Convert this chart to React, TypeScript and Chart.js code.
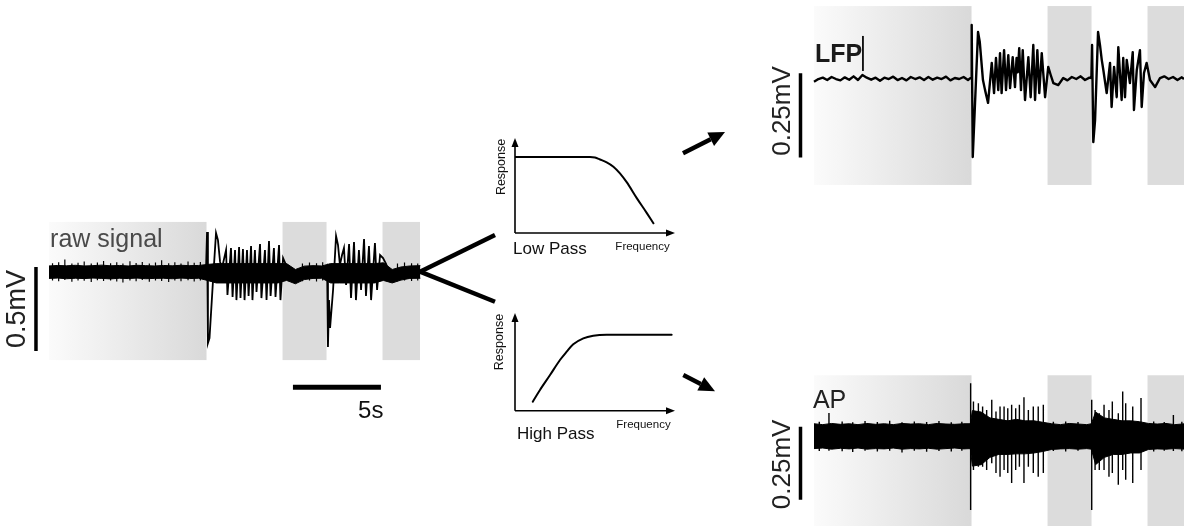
import React, { useEffect, useRef } from 'react';
import Chart from 'chart.js/auto';

const FONT = '"Liberation Sans", Arial, Helvetica, sans-serif';

// ---------- shared time layout (seconds) ----------
const epochStart = [0, 13.27, 18.95];
const epochEnd = [8.95, 15.77, 21.08];
const timeBarStartS = 13.86;
const timeBarLenS = 5;

// ---------- raw signal (mV) ----------
const bandT = [0, 0.5, 1, 1.5, 2, 2.5, 3, 3.5, 4, 4.5, 5, 5.5, 6, 6.5, 7, 7.5, 8, 8.5,
  9, 9.5, 10, 10.5, 11, 11.5, 12, 12.5, 13, 13.5, 14, 14.5, 15, 15.5,
  16, 16.5, 17, 17.5, 18, 18.5, 19, 19.5, 20, 20.5, 21.1];
const rawBandHi = [0.036, 0.039, 0.037, 0.04, 0.036, 0.038, 0.041, 0.037, 0.039, 0.036, 0.04, 0.038, 0.036, 0.039, 0.037, 0.04, 0.038, 0.039,
  0.045, 0.05, 0.05, 0.05, 0.05, 0.05, 0.05, 0.05, 0.05,
  0.05, 0.015, 0.035, 0.038, 0.036,
  0.05, 0.05, 0.05, 0.05, 0.05, 0.05,
  0.055, 0.015, 0.03, 0.036, 0.038];
const rawBandLo = [-0.038, -0.036, -0.04, -0.037, -0.039, -0.036, -0.038, -0.041, -0.037, -0.039, -0.036, -0.04, -0.038, -0.037, -0.04, -0.036, -0.039, -0.037,
  -0.05, -0.065, -0.065, -0.065, -0.065, -0.065, -0.065, -0.065, -0.065,
  -0.05, -0.07, -0.045, -0.038, -0.037,
  -0.065, -0.065, -0.065, -0.065, -0.065, -0.065,
  -0.05, -0.065, -0.048, -0.038, -0.037];
const rawHairT = [0.2, 0.55, 0.9, 1.3, 1.65, 2.0, 2.4, 2.75, 3.1, 3.5, 3.85, 4.2, 4.6, 4.95, 5.3, 5.7, 6.05, 6.4, 6.8, 7.15, 7.5, 7.9, 8.25, 8.6,
  14.4, 14.8, 15.2, 15.55, 19.8, 20.2, 20.6, 20.95];
const rawHairUp = [0.052, 0.058, 0.075, 0.05, 0.055, 0.062, 0.05, 0.056, 0.066, 0.052, 0.058, 0.05, 0.064, 0.054, 0.06, 0.05, 0.057, 0.07, 0.052, 0.058, 0.05, 0.062, 0.055, 0.06,
  0.05, 0.056, 0.052, 0.058, 0.05, 0.056, 0.052, 0.05];
const rawHairDown = [-0.05, -0.055, -0.048, -0.058, -0.05, -0.052, -0.06, -0.049, -0.054, -0.05, -0.056, -0.062, -0.05, -0.055, -0.048, -0.058, -0.05, -0.053, -0.06, -0.05, -0.055, -0.049, -0.057, -0.05,
  -0.055, -0.05, -0.056, -0.05, -0.055, -0.05, -0.054, -0.05];
const rawTraceT = [8.85, 8.92, 8.98, 9.03, 9.12, 9.32, 9.49, 9.60, 9.72, 9.83,
  10.06, 10.14, 10.34, 10.43, 10.57, 10.65, 10.80, 10.88, 11.02, 11.11, 11.25, 11.34, 11.48, 11.56, 11.70, 11.79, 11.99, 12.07, 12.27, 12.36, 12.50, 12.59, 12.78, 12.87, 13.07, 13.15,
  13.30, 13.47, 13.69, 14.03, 14.38, 15.00,
  15.74, 15.80, 15.85, 15.91, 15.97, 16.14, 16.31, 16.42, 16.53, 16.65,
  16.76, 16.88, 17.05, 17.16, 17.33, 17.44, 17.61, 17.73, 17.90, 18.01, 18.18, 18.30, 18.52, 18.64,
  18.81, 18.98, 19.15, 19.38, 19.72, 20.06, 21.00];
const rawTraceV = [0.0, 0.012, 0.238, -0.423, -0.393, -0.048, 0.232, 0.19, 0.06, 0.024,
  0.131, -0.137, 0.143, -0.149, 0.131, -0.167, 0.149, -0.155, 0.137, -0.167, 0.131, -0.143, 0.155, -0.167, 0.131, -0.119, 0.167, -0.155, 0.131, -0.167, 0.185, -0.143, 0.143, -0.149, 0.161, -0.167,
  0.083, 0.042, -0.024, -0.03, 0.0, 0.005,
  0.006, 0.024, -0.446, -0.167, -0.333, -0.107, 0.214, 0.161, 0.042, 0.101,
  0.143, -0.077, 0.167, -0.155, 0.179, -0.167, 0.131, -0.107, 0.196, -0.143, 0.155, -0.167, 0.173, -0.107,
  0.101, 0.083, 0.048, -0.018, -0.036, 0.0, 0.0];
const rawScaleBarMv = 0.5;

// ---------- LFP (mV) ----------
const lfpT = [0, 0.25, 0.5, 0.75, 1, 1.25, 1.5, 1.75, 2, 2.25, 2.5, 2.75,
  3, 3.25, 3.5, 3.75, 4, 4.25, 4.5, 4.75, 5, 5.25, 5.5, 5.75,
  6, 6.25, 6.5, 6.75, 7, 7.25, 7.5, 7.75, 8, 8.25, 8.5, 8.75,
  8.86, 8.93, 8.96, 9.02, 9.32, 9.42, 9.60, 9.72, 9.89,
  10.10, 10.23, 10.34, 10.47, 10.57, 10.66, 10.80, 10.91, 11.04, 11.14, 11.29, 11.42, 11.51, 11.58, 11.66, 11.76, 11.86, 11.99, 12.18, 12.31, 12.46, 12.56, 12.69, 12.80, 12.94, 13.13,
  13.31, 13.45, 13.60, 13.88, 14.16, 14.40, 14.65, 14.90, 15.15, 15.40, 15.65,
  15.76, 15.80, 15.87, 15.97, 16.14, 16.25, 16.35, 16.44, 16.63, 16.82, 16.91, 17.05, 17.20, 17.29, 17.48, 17.57, 17.67, 17.77, 17.95, 18.11, 18.18, 18.34, 18.52, 18.62, 18.75, 18.90,
  19.09, 19.38, 19.66, 19.90, 20.15, 20.40, 20.65, 20.90, 21.02];
const lfpV = [-0.008, 0.0, 0.004, -0.003, 0.006, 0.0, -0.004, 0.005, -0.002, 0.008, -0.003, 0.012,
  0.004, -0.002, 0.004, -0.005, 0.004, 0.0, 0.007, -0.003, 0.003, -0.004, 0.006, 0.0,
  0.005, -0.003, 0.006, -0.002, 0.004, 0.0, 0.007, -0.004, 0.003, 0.0, 0.006, -0.003,
  0.002, 0.003, 0.161, -0.232, 0.140, 0.11, -0.003, -0.033, -0.071,
  0.048, -0.042, 0.0625, -0.033, 0.077, -0.042, 0.086, -0.033, 0.071, -0.027, 0.065, -0.024, 0.0625, 0.02, 0.092, -0.033, 0.086, -0.0625, 0.065, -0.054, 0.101, -0.0625, 0.086, -0.042, 0.077, -0.054,
  0.036, 0.012, -0.012, -0.018, 0.003, -0.004, 0.006, 0.0, 0.008, -0.003, 0.004,
  0.003, 0.101, -0.1875, -0.122, 0.140, 0.101, 0.057, 0.027, -0.042, 0.048, -0.083, 0.036, -0.054, 0.095, -0.0625, 0.0625, -0.054, 0.057, -0.012, 0.080, -0.092, 0.027, 0.086, -0.083, 0.018, 0.048,
  -0.003, -0.024, 0.003, 0.008, 0.0, 0.006, -0.003, 0.005, 0.0];
const lfpScaleBarMv = 0.25;

// ---------- AP (mV) ----------
const apBandT = [0, 0.5, 1, 1.5, 2, 2.5, 3, 3.5, 4, 4.5, 5, 5.5, 6, 6.5, 7, 7.5, 8, 8.5, 8.88,
  9, 9.5, 10, 10.5, 11, 11.5, 12, 12.5, 13, 13.5, 14, 14.5, 15, 15.5, 15.76,
  16, 16.5, 17, 17.5, 18, 18.5, 19, 19.5, 20, 20.5, 21.1];
const apBandHi = [0.045, 0.042, 0.046, 0.043, 0.045, 0.042, 0.046, 0.043, 0.045, 0.042, 0.046, 0.044, 0.045, 0.042, 0.046, 0.044, 0.043, 0.045, 0.045,
  0.09, 0.085, 0.065, 0.06, 0.055, 0.06, 0.055, 0.055, 0.05,
  0.045, 0.042, 0.046, 0.044, 0.042, 0.045,
  0.085, 0.065, 0.06, 0.055, 0.055, 0.052,
  0.046, 0.044, 0.046, 0.042, 0.045];
const apBandLo = [-0.04, -0.038, -0.042, -0.039, -0.041, -0.038, -0.042, -0.04, -0.041, -0.038, -0.042, -0.04, -0.041, -0.039, -0.042, -0.04, -0.038, -0.041, -0.04,
  -0.1, -0.095, -0.07, -0.06, -0.06, -0.058, -0.058, -0.055, -0.05,
  -0.043, -0.041, -0.04, -0.042, -0.04, -0.042,
  -0.095, -0.07, -0.06, -0.06, -0.055, -0.055,
  -0.043, -0.041, -0.042, -0.04, -0.042];
const apSpikeT = [0.3, 0.85, 1.6, 2.2, 2.9, 3.6, 4.3, 5.0, 5.7, 6.4, 7.1, 7.8, 8.4,
  8.90, 9.06, 9.34, 9.58, 9.81, 10.10, 10.34, 10.57, 10.80, 11.01, 11.23, 11.46, 11.67, 11.93, 12.18, 12.46, 12.74, 13.03,
  13.6, 14.3, 15.0,
  15.78, 15.97, 16.21, 16.48, 16.76, 16.95, 17.29, 17.54, 17.71, 18.11, 18.58,
  19.3, 19.9, 20.42, 20.9];
const apSpikeUp = [0.052, 0.082, 0.053, 0.05, 0.054, 0.051, 0.055, 0.05, 0.053, 0.051, 0.054, 0.05, 0.052,
  0.184, 0.121, 0.115, 0.104, 0.092, 0.127, 0.087, 0.104, 0.104, 0.098, 0.110, 0.098, 0.110, 0.136, 0.092, 0.104, 0.104, 0.110,
  0.052, 0.053, 0.051,
  0.127, 0.092, 0.081, 0.110, 0.092, 0.121, 0.081, 0.155, 0.115, 0.104, 0.133,
  0.053, 0.051, 0.075, 0.052];
const apSpikeDown = [-0.048, -0.047, -0.049, -0.052, -0.047, -0.05, -0.047, -0.053, -0.047, -0.051, -0.048, -0.05, -0.047,
  -0.25, -0.113, -0.102, -0.102, -0.113, -0.090, -0.124, -0.136, -0.113, -0.124, -0.158, -0.113, -0.102, -0.158, -0.102, -0.124, -0.136, -0.124,
  -0.048, -0.05, -0.047,
  -0.25, -0.113, -0.113, -0.113, -0.136, -0.124, -0.164, -0.113, -0.147, -0.158, -0.113,
  -0.05, -0.047, -0.048, -0.049];
const apScaleBarMv = 0.25;

// ---------- filter responses (normalised) ----------
const lowPassF = [0, 0.469, 0.5, 0.531, 0.573, 0.615, 0.656, 0.698, 0.76, 0.823, 0.865];
const lowPassR = [0.8, 0.8, 0.794, 0.774, 0.744, 0.698, 0.628, 0.535, 0.37, 0.212, 0.102];
const highPassF = [0.111, 0.156, 0.219, 0.281, 0.323, 0.364, 0.427, 0.489, 0.573, 0.979];
const highPassR = [0.092, 0.212, 0.365, 0.519, 0.604, 0.68, 0.741, 0.768, 0.778, 0.778];

// ---------- helpers ----------
type Label = {
  text: string; x: number; y: number; size: number; color: string;
  align?: CanvasTextAlign; baseline?: CanvasTextBaseline; bold?: boolean; rotate?: boolean;
};

const pts = (T: number[], V: number[]) => T.map((t, i) => ({ x: t, y: V[i] }));

const spikePts = (T: number[], up: number[], down: number[]) => {
  const out: any[] = [];
  T.forEach((t, i) => {
    out.push({ x: t, y: up[i] }, { x: t, y: down[i] }, { x: t, y: null });
  });
  return out;
};

const lineDs = (data: any[], width: number, extra: any = {}) => ({
  data, borderColor: '#000', backgroundColor: '#000', borderWidth: width,
  pointRadius: 0, fill: false, tension: 0, borderCapStyle: 'butt', borderJoinStyle: 'miter', spanGaps: false, ...extra,
});

function labelPlugin(labels: Label[]) {
  return {
    id: 'labels',
    afterDatasetsDraw(chart: any) {
      const { ctx, scales: { x, y } } = chart;
      labels.forEach((l) => {
        ctx.save();
        ctx.font = `${l.bold ? 'bold ' : ''}${l.size}px ${FONT}`;
        ctx.fillStyle = l.color;
        ctx.textAlign = l.align ?? 'left';
        ctx.textBaseline = l.baseline ?? 'alphabetic';
        ctx.translate(x.getPixelForValue(l.x), y.getPixelForValue(l.y));
        if (l.rotate) ctx.rotate(-Math.PI / 2);
        ctx.fillText(l.text, 0, 0);
        ctx.restore();
      });
    },
  };
}

function shadePlugin(top: number, bottom: number) {
  return {
    id: 'shade',
    beforeDatasetsDraw(chart: any) {
      const { ctx, scales: { x, y } } = chart;
      const yT = y.getPixelForValue(top);
      const yB = y.getPixelForValue(bottom);
      ctx.save();
      epochStart.forEach((s, i) => {
        const x0 = x.getPixelForValue(s);
        const x1 = x.getPixelForValue(epochEnd[i]);
        if (i === 0) {
          const g = ctx.createLinearGradient(x0, 0, x1, 0);
          g.addColorStop(0, '#fbfbfb');
          g.addColorStop(1, '#d9d9d9');
          ctx.fillStyle = g;
        } else {
          ctx.fillStyle = '#dcdcdc';
        }
        ctx.fillRect(x0, yT, x1 - x0, yB - yT);
      });
      ctx.restore();
    },
  };
}

function arrow(ctx: CanvasRenderingContext2D, x0: number, y0: number, x1: number, y1: number, w: number, hl: number, hh: number) {
  const a = Math.atan2(y1 - y0, x1 - x0);
  const bx = x1 - hl * Math.cos(a);
  const by = y1 - hl * Math.sin(a);
  ctx.save();
  ctx.strokeStyle = '#000';
  ctx.fillStyle = '#000';
  ctx.lineWidth = w;
  ctx.beginPath();
  ctx.moveTo(x0, y0);
  ctx.lineTo(bx, by);
  ctx.stroke();
  ctx.beginPath();
  ctx.moveTo(x1, y1);
  ctx.lineTo(bx + hh * Math.sin(a), by - hh * Math.cos(a));
  ctx.lineTo(bx - hh * Math.sin(a), by + hh * Math.cos(a));
  ctx.closePath();
  ctx.fill();
  ctx.restore();
}

const baseOptions = (xMin: number, xMax: number, yMin: number, yMax: number, padding: any = 0) => ({
  responsive: false,
  animation: false,
  events: [],
  devicePixelRatio: 1,
  layout: { padding },
  scales: {
    x: { type: 'linear', display: false, min: xMin, max: xMax },
    y: { type: 'linear', display: false, min: yMin, max: yMax },
  },
  plugins: { legend: { display: false }, tooltip: { enabled: false }, colors: { enabled: false }, title: { display: false } },
  elements: { point: { radius: 0 } },
});

// ---------- chart configs ----------
function rawConfig(): any {
  const barT = -0.74;
  return {
    type: 'line',
    data: {
      datasets: [
        lineDs(pts(bandT, rawBandHi), 1, { fill: '+1' }),
        lineDs(pts(bandT, rawBandLo), 1),
        lineDs(spikePts(rawHairT, rawHairUp, rawHairDown), 1.2),
        lineDs(pts(rawTraceT, rawTraceV), 1.8),
        lineDs([{ x: barT, y: 0.03 }, { x: barT, y: 0.03 - rawScaleBarMv }], 3.5),
        lineDs([{ x: timeBarStartS, y: -0.685 }, { x: timeBarStartS + timeBarLenS, y: -0.685 }], 5),
        lineDs([{ x: 21.08, y: 0.002 }, { x: 25.34, y: 0.22 }], 4.5),
        lineDs([{ x: 21.08, y: 0.002 }, { x: 25.34, y: -0.177 }], 4.5),
      ],
    },
    options: baseOptions(-2.784, 25.625, -0.94, 0.369),
    plugins: [
      shadePlugin(0.298, -0.524),
      labelPlugin([
        { text: 'raw signal', x: 0.06, y: 0.149, size: 25, color: '#4a4a4a' },
        { text: '0.5mV', x: -1.79, y: -0.22, size: 27, color: '#222', align: 'center', baseline: 'middle', rotate: true },
        { text: '5s', x: 17.56, y: -0.869, size: 24, color: '#111' },
      ]),
    ],
  };
}

function lfpConfig(): any {
  const barT = -0.767;
  return {
    type: 'line',
    data: {
      datasets: [
        lineDs(pts(lfpT, lfpV), 2.4, { borderJoinStyle: 'round' }),
        lineDs([{ x: barT, y: 0.017 }, { x: barT, y: 0.017 - lfpScaleBarMv }], 3.5),
        lineDs([{ x: 2.78, y: 0.128 }, { x: 2.78, y: 0.024 }], 1),
      ],
    },
    options: baseOptions(-2.784, 21.023, -0.33, 0.235),
    plugins: [
      shadePlugin(0.217, -0.315),
      labelPlugin([
        { text: 'LFP', x: 0.06, y: 0.0506, size: 25, color: '#1a1a1a', bold: true },
        { text: '0.25mV', x: -1.76, y: -0.095, size: 26, color: '#222', align: 'center', baseline: 'middle', rotate: true },
      ]),
    ],
  };
}

function apConfig(): any {
  const barT = -0.767;
  return {
    type: 'line',
    data: {
      datasets: [
        lineDs(pts(apBandT, apBandHi), 1, { fill: '+1' }),
        lineDs(pts(apBandT, apBandLo), 1),
        lineDs(spikePts(apSpikeT, apSpikeUp, apSpikeDown), 1.4),
        lineDs([{ x: barT, y: 0.035 }, { x: barT, y: 0.035 - apScaleBarMv }], 3.5),
      ],
    },
    options: baseOptions(-2.784, 21.023, -0.305, 0.229),
    plugins: [
      shadePlugin(0.211, -0.31),
      labelPlugin([
        { text: 'AP', x: -0.06, y: 0.099, size: 25, color: '#222' },
        { text: '0.25mV', x: -1.76, y: -0.094, size: 26, color: '#222', align: 'center', baseline: 'middle', rotate: true },
      ]),
    ],
  };
}

function filterConfig(F: number[], R: number[], padding: any, labels: Label[], arr: number[]): any {
  return {
    type: 'line',
    data: {
      datasets: [lineDs(pts(F, R), 2, { cubicInterpolationMode: 'monotone', borderCapStyle: 'round' })],
    },
    options: baseOptions(0, 1, 0, 1, padding),
    plugins: [
      {
        id: 'axes',
        beforeDatasetsDraw(chart: any) {
          const { ctx, scales: { x, y } } = chart;
          const ox = x.getPixelForValue(0);
          const oy = y.getPixelForValue(0);
          arrow(ctx, ox, oy, x.getPixelForValue(1), oy, 1.6, 9, 3.5);
          arrow(ctx, ox, oy, ox, y.getPixelForValue(1), 1.6, 9, 3.5);
        },
        afterDatasetsDraw(chart: any) {
          const { ctx, scales: { x, y } } = chart;
          arrow(ctx, x.getPixelForValue(arr[0]), y.getPixelForValue(arr[1]), x.getPixelForValue(arr[2]), y.getPixelForValue(arr[3]), 4.5, 16, 7.5);
        },
      },
      labelPlugin(labels),
    ],
  };
}

function lowPassConfig(): any {
  return filterConfig(lowPassF, lowPassR, { left: 30, top: 13, right: 60, bottom: 32 }, [
    { text: 'Response', x: -0.081, y: 0.695, size: 12.5, color: '#111', align: 'center', baseline: 'middle', rotate: true },
    { text: 'Frequency', x: 0.797, y: -0.147, size: 11.5, color: '#111', align: 'center', baseline: 'middle' },
    { text: 'Low Pass', x: -0.0125, y: -0.168, size: 17, color: '#111', baseline: 'middle' },
  ], [1.05, 0.84, 1.3125, 1.063]);
}

function highPassConfig(): any {
  return filterConfig(highPassF, highPassR, { left: 30, top: 13, right: 60, bottom: 39.3 }, [
    { text: 'Response', x: -0.094, y: 0.703, size: 12.5, color: '#111', align: 'center', baseline: 'middle', rotate: true },
    { text: 'Frequency', x: 0.803, y: -0.146, size: 11.5, color: '#111', align: 'center', baseline: 'middle' },
    { text: 'High Pass', x: 0.0125, y: -0.238, size: 17, color: '#111', baseline: 'middle' },
  ], [1.052, 0.365, 1.25, 0.2]);
}

function ChartBox({ left, top, width, height, make }: { left: number; top: number; width: number; height: number; make: () => any }) {
  const ref = useRef<HTMLCanvasElement>(null);
  useEffect(() => {
    const c = new Chart(ref.current as HTMLCanvasElement, make());
    return () => c.destroy();
  }, [make]);
  return (
    <canvas
      ref={ref}
      width={width}
      height={height}
      style={{ position: 'absolute', left, top, width, height, display: 'block' }}
    />
  );
}

export default function App() {
  return (
    <div style={{ position: 'absolute', left: 0, top: 0, width: 1184, height: 526, background: '#fff', overflow: 'hidden' }}>
      <ChartBox left={0} top={210} width={500} height={220} make={rawConfig} />
      <ChartBox left={485} top={125} width={250} height={140} make={lowPassConfig} />
      <ChartBox left={485} top={300} width={250} height={150} make={highPassConfig} />
      <ChartBox left={765} top={0} width={419} height={190} make={lfpConfig} />
      <ChartBox left={765} top={370} width={419} height={156} make={apConfig} />
    </div>
  );
}
